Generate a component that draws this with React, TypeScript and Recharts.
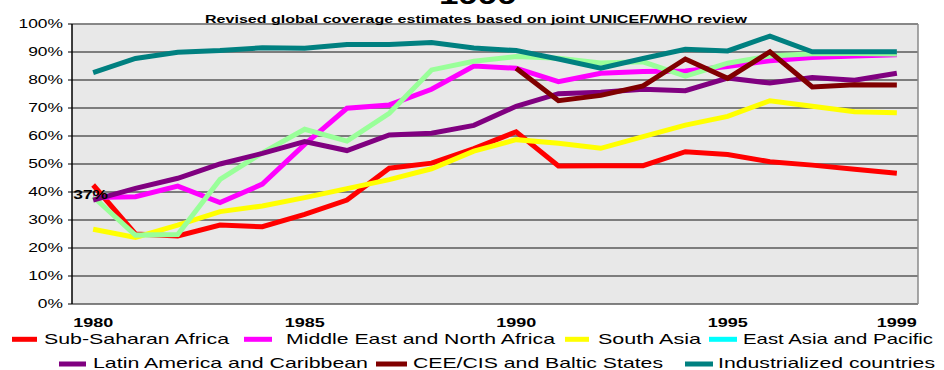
import React from 'react';
import { LineChart, Line, XAxis, YAxis, CartesianGrid, ReferenceLine, LabelList } from 'recharts';

const years = [1980, 1981, 1982, 1983, 1984, 1985, 1986, 1987, 1988, 1989, 1990, 1991, 1992, 1993, 1994, 1995, 1996, 1997, 1998, 1999];
const subSaharanAfrica = [42.5, 25, 24.3, 28.2, 27.6, 32, 37.1, 48.5, 50.3, 55.5, 61.5, 49.3, 49.4, 49.4, 54.4, 53.4, 50.8, 49.6, 48.1, 46.7];
const middleEastNorthAfrica = [38, 38.3, 42.1, 36.2, 42.8, 57, 69.9, 71.1, 76.7, 85, 84.2, 79.4, 82.4, 83, 83.2, 84.8, 86.9, 88, 88.6, 89];
const southAsia = [26.7, 23.8, 28.2, 33, 35, 38, 41.2, 44.4, 48.3, 54.6, 58.7, 57.4, 55.6, 59.8, 63.9, 67, 72.6, 70.6, 68.7, 68.3];
const eastAsiaPacific = [38.3, 24.6, 24.8, 44.5, 54, 62.4, 58.2, 68.1, 83.6, 86.7, 88.4, 87.8, 86.1, 86.5, 81.4, 86, 88.6, 89.4, 89.5, 89.3];
const latinAmericaCaribbean = [37.1, 41.3, 44.9, 50, 53.8, 58, 54.8, 60.4, 61, 63.8, 70.6, 75.1, 75.6, 76.7, 76.2, 80.7, 78.9, 80.9, 79.9, 82.4];
const ceeCisBaltic = [null, null, null, null, null, null, null, null, null, null, 84.2, 72.6, 74.5, 77.9, 87.5, 80.6, 90.1, 77.5, 78.3, 78.2];
const industrialized = [82.6, 87.7, 89.9, 90.5, 91.5, 91.3, 92.7, 92.7, 93.4, 91.4, 90.5, 87.5, 84.2, 87.7, 91, 90.4, 95.7, 90.1, 90.1, 90.1];

const yTicks = [0, 10, 20, 30, 40, 50, 60, 70, 80, 90, 100];
const xLabelTicks = [1980, 1985, 1990, 1995, 1999];
const xBoundaryTicks = [...years.map((y) => y - 0.5), 1999.5];

const titleText = '1999';
const subtitleText = 'Revised global coverage estimates based on joint UNICEF/WHO review';

const series = [
  { key: 'ssa', name: 'Sub-Saharan Africa', values: subSaharanAfrica, color: '#FF0000', legendColor: '#FF0000' },
  { key: 'mena', name: 'Middle East and North Africa', values: middleEastNorthAfrica, color: '#FF00FF', legendColor: '#FF00FF' },
  { key: 'sa', name: 'South Asia', values: southAsia, color: '#FFFF00', legendColor: '#FFFF00' },
  { key: 'eap', name: 'East Asia and Pacific', values: eastAsiaPacific, color: '#99FF99', legendColor: '#00FFFF' },
  { key: 'lac', name: 'Latin America and Caribbean', values: latinAmericaCaribbean, color: '#800080', legendColor: '#800080' },
  { key: 'cee', name: 'CEE/CIS and Baltic States', values: ceeCisBaltic, color: '#800000', legendColor: '#800000' },
  { key: 'ind', name: 'Industrialized countries', values: industrialized, color: '#008080', legendColor: '#008080' },
];

const data = years.map((year, i) => {
  const row: Record<string, number | null> = { year };
  series.forEach((s) => {
    row[s.key] = s.values[i];
  });
  return row;
});

// legend layout (styling only)
const legendLayout = [
  { row: 0, sx: 12, sw: 25, tx: 44, tw: 185 },
  { row: 0, sx: 244, sw: 28, tx: 286, tw: 269 },
  { row: 0, sx: 565, sw: 24, tx: 598, tw: 103 },
  { row: 0, sx: 709, sw: 28, tx: 743, tw: 190 },
  { row: 1, sx: 59, sw: 27, tx: 93, tw: 275 },
  { row: 1, sx: 376, sw: 31, tx: 413, tw: 250 },
  { row: 1, sx: 685, sw: 28, tx: 718, tw: 217 },
];
const legendRows = [
  { swatchY: 339.3, baseline: 343.5 },
  { swatchY: 364, baseline: 368 },
];

const FONT = '"Liberation Sans", Arial, sans-serif';
const SX = 1.45;

const YTick = (props: any) => {
  const { x, y, payload } = props;
  return (
    <text
      transform={`translate(${x},${y}) scale(${SX},1)`}
      textAnchor="end"
      dominantBaseline="central"
      fontSize={12}
      fontFamily={FONT}
      fill="#000"
    >
      {payload.value}%
    </text>
  );
};

const XTick = (props: any) => {
  const { x, y, payload } = props;
  return (
    <text
      transform={`translate(${x},${y + 23}) scale(1.5,1)`}
      textAnchor="middle"
      fontSize={12}
      fontWeight="bold"
      fontFamily={FONT}
      fill="#000"
    >
      {payload.value}
    </text>
  );
};

const FirstPointLabel = (props: any) => {
  const { x, y, index, value } = props;
  if (index !== 0 || x == null) return null;
  return (
    <text
      transform={`translate(${x - 2.5},${y - 1}) scale(${SX},1)`}
      textAnchor="middle"
      fontSize={12}
      fontWeight="bold"
      fontFamily={FONT}
      fill="#000"
    >
      {Math.round(value)}%
    </text>
  );
};

export default function App() {
  return (
    <div style={{ position: 'absolute', left: 0, top: 0, width: 944, height: 370, background: '#fff', overflow: 'hidden' }}>
      <LineChart
        width={944}
        height={370}
        data={data}
        margin={{ top: 24, right: 26, left: 12, bottom: 46 }}
      >
        <CartesianGrid
          vertical={false}
          fill="#E8E8E8"
          stroke="#5A5A5A"
          strokeWidth={1.5}
          xAxisId="marks"
        />
        <XAxis
          xAxisId="marks"
          dataKey="year"
          type="number"
          domain={[1979.5, 1999.5]}
          ticks={xBoundaryTicks}
          tick={false}
          tickSize={4}
          height={0}
          axisLine={{ stroke: '#000', strokeWidth: 1.5 }}
          tickLine={{ stroke: '#000', strokeWidth: 1 }}
          interval={0}
          allowDecimals
        />
        <XAxis
          xAxisId="labels"
          dataKey="year"
          type="number"
          domain={[1979.5, 1999.5]}
          ticks={xLabelTicks}
          tick={<XTick />}
          tickSize={0}
          tickMargin={0}
          height={20}
          axisLine={false}
          tickLine={false}
          interval={0}
        />
        <YAxis
          domain={[0, 100]}
          ticks={yTicks}
          tick={<YTick />}
          width={60}
          tickSize={4}
          tickMargin={5}
          axisLine={{ stroke: '#000', strokeWidth: 1.5 }}
          tickLine={{ stroke: '#000', strokeWidth: 1 }}
          interval={0}
        />
        <ReferenceLine y={100} xAxisId="marks" stroke="#8A8A8A" strokeWidth={1.5} />
        <ReferenceLine x={1999.5} xAxisId="marks" stroke="#8A8A8A" strokeWidth={1.5} />
        {series.map((s) => (
          <Line
            key={s.key}
            xAxisId="marks"
            dataKey={s.key}
            name={s.name}
            stroke={s.color}
            strokeWidth={5}
            strokeLinejoin="miter"
            dot={false}
            activeDot={false}
            connectNulls={false}
            isAnimationActive={false}
          >
            {s.key === 'lac' ? <LabelList dataKey={s.key} content={<FirstPointLabel />} /> : null}
          </Line>
        ))}
      </LineChart>
      <svg
        width={944}
        height={370}
        style={{ position: 'absolute', left: 0, top: 0, pointerEvents: 'none' }}
      >
        <text
          x={478}
          y={4}
          textAnchor="middle"
          fontSize={26}
          fontWeight="bold"
          fontFamily={FONT}
          textLength={78}
          lengthAdjust="spacingAndGlyphs"
          fill="#000"
        >
          {titleText}
        </text>
        <text
          x={476}
          y={22.5}
          textAnchor="middle"
          fontSize={11.5}
          fontWeight="bold"
          fontFamily={FONT}
          textLength={542}
          lengthAdjust="spacingAndGlyphs"
          fill="#000"
        >
          {subtitleText}
        </text>
        {series.map((s, i) => {
          const l = legendLayout[i];
          const r = legendRows[l.row];
          return (
            <g key={s.key}>
              <rect x={l.sx} y={r.swatchY - 2.5} width={l.sw} height={5} fill={s.legendColor} />
              <text
                x={l.tx}
                y={r.baseline}
                fontSize={15}
                fontFamily={FONT}
                textLength={l.tw}
                lengthAdjust="spacingAndGlyphs"
                fill="#000"
              >
                {s.name}
              </text>
            </g>
          );
        })}
      </svg>
    </div>
  );
}
